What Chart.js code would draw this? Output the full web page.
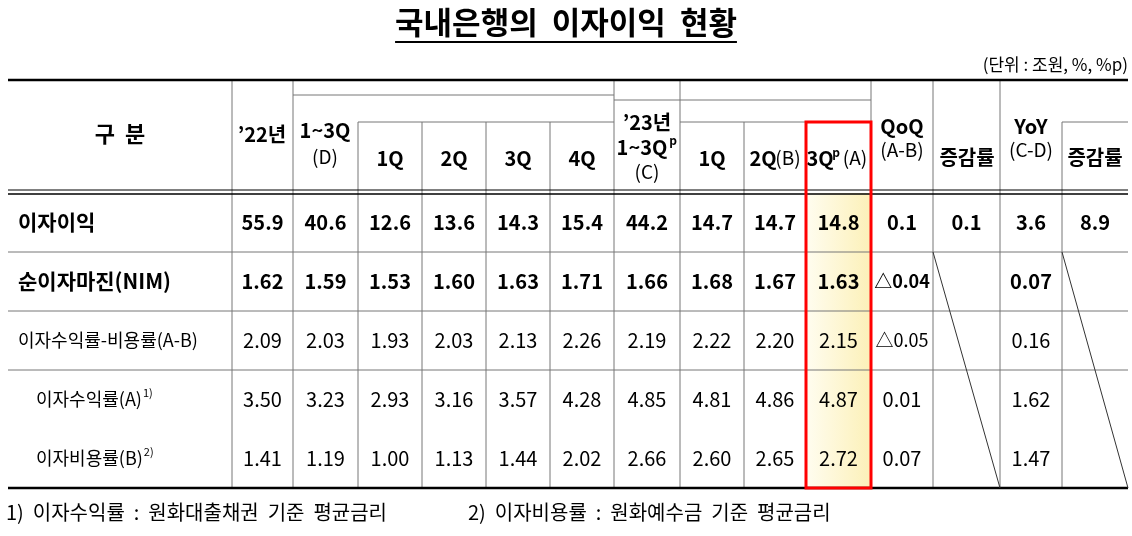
<!DOCTYPE html>
<html><head><meta charset="utf-8">
<script src="https://cdn.jsdelivr.net/npm/chart.js@4"></script>
<style>body{margin:0;background:#fff}#wrap{width:1132px;height:536px}</style>
</head><body><div id="wrap"><canvas id="tbl"></canvas></div>
<script>
// table data
const title = '국내은행의  이자이익  현황';
const unitNote = '(단위 : 조원, %, %p)';
const rowLabels = ['이자이익', '순이자마진(NIM)', '이자수익률-비용률(A-B)', '이자수익률(A)', '이자비용률(B)'];
const rowNotes = ['', '', '', '1)', '2)'];
const y22 = ['55.9', '1.62', '2.09', '3.50', '1.41'];
const y22q13 = ['40.6', '1.59', '2.03', '3.23', '1.19'];
const q1_22 = ['12.6', '1.53', '1.93', '2.93', '1.00'];
const q2_22 = ['13.6', '1.60', '2.03', '3.16', '1.13'];
const q3_22 = ['14.3', '1.63', '2.13', '3.57', '1.44'];
const q4_22 = ['15.4', '1.71', '2.26', '4.28', '2.02'];
const y23q13 = ['44.2', '1.66', '2.19', '4.85', '2.66'];
const q1_23 = ['14.7', '1.68', '2.22', '4.81', '2.60'];
const q2_23 = ['14.7', '1.67', '2.20', '4.86', '2.65'];
const q3_23 = ['14.8', '1.63', '2.15', '4.87', '2.72'];
const qoq = ['0.1', '△0.04', '△0.05', '0.01', '0.07'];
const qoqRate = ['0.1', '', '', '', ''];
const yoy = ['3.6', '0.07', '0.16', '1.62', '1.47'];
const yoyRate = ['8.9', '', '', '', ''];
const footnotes = ['1)  이자수익률  :  원화대출채권  기준  평균금리', '2)  이자비용률  :  원화예수금  기준  평균금리'];

const columns = [y22, y22q13, q1_22, q2_22, q3_22, q4_22, y23q13, q1_23, q2_23, q3_23, qoq, qoqRate, yoy, yoyRate];
// layout (column edges / row edges in scale units)
const colEdges = [8, 232, 293, 358, 422, 486, 550, 614, 680, 744, 806, 871, 933, 1000, 1062, 1128];
const rowEdges = [193, 252, 311, 370, 429, 488];
const HTOP = 80;
const F = '"Noto Sans CJK KR","Noto Sans",sans-serif';

const tablePlugin = {
  id: 'table',
  afterDraw(chart) {
    const ctx = chart.ctx, xs = chart.scales.x, ys = chart.scales.y;
    const X = v => xs.getPixelForValue(v), Y = v => ys.getPixelForValue(v);
    const line = (x1, y1, x2, y2, w, c) => {
      ctx.beginPath(); ctx.lineWidth = w || 1; ctx.strokeStyle = c || '#777';
      ctx.moveTo(X(x1), Y(y1)); ctx.lineTo(X(x2), Y(y2)); ctx.stroke();
    };
    const text = (s, x, y, font, align) => {
      ctx.font = font; ctx.fillStyle = '#000'; ctx.textAlign = align || 'center'; ctx.textBaseline = 'middle';
      ctx.fillText(s, X(x), Y(y));
    };
    ctx.save();
    // title
    text(title, 566, 22, 'bold 31px ' + F);
    ctx.font = 'bold 31px ' + F;
    const tw = ctx.measureText(title).width;
    line(566 - tw / 2, 42, 566 + tw / 2, 42, 2, '#000');
    text(unitNote, 1128, 65, '17px ' + F, 'right');
    // highlight column 3Qp
    const g = ctx.createLinearGradient(X(806), 0, X(871), 0);
    g.addColorStop(0, '#fffdf0'); g.addColorStop(1, '#fcf0b8');
    ctx.fillStyle = g;
    ctx.fillRect(X(806), Y(193), X(871) - X(806), Y(488) - Y(193));
    // header lines
    line(293, 95, 614, 95); line(614, 100, 871, 100);
    line(358, 122, 614, 122); line(680, 122, 871, 122); line(1062, 122, 1128, 122);
    // verticals
    colEdges.forEach((cx, i) => {
      if (i === 0 || i === colEdges.length - 1) return;
      let top = HTOP;
      if ([3, 4, 5, 6, 9, 10, 14].includes(i)) top = 122;
      line(cx, top, cx, 488);
    });
    // row lines
    line(8, HTOP, 1128, HTOP, 2.5, '#000');
    line(8, 190, 1128, 190, 1, '#000'); line(8, 194, 1128, 194, 1.5, '#000');
    line(8, 252, 1128, 252); line(8, 311, 1128, 311); line(8, 370, 1128, 370);
    line(8, 488, 1128, 488, 2.5, '#000');
    // diagonals in empty rate cells
    [[933, 1000], [1062, 1128]].forEach(([a, b]) => line(a, 252, b, 488, 1, '#333'));
    // header text
    const hb = 'bold 20px ' + F, hn = '19px ' + F;
    text('구  분', 120, 134, 'bold 22px ' + F);
    text('\u201922년', 262, 134, hb);
    text('1~3Q', 325, 130, hb); text('(D)', 325, 157, hn);
    text('1Q', 390, 158, hb); text('2Q', 454, 158, hb); text('3Q', 518, 158, hb); text('4Q', 582, 158, hb);
    text('\u201923년', 647, 122, hb); text('1~3Q', 642, 147, hb);
    text('p', 673, 140, 'bold 12px ' + F); text('(C)', 647, 172, hn);
    text('1Q', 712, 158, hb);
    text('2Q', 763, 158, hb); text('(B)', 788, 158, hn);
    text('3Q', 820, 158, hb); text('p', 836, 152, 'bold 12px ' + F); text('(A)', 855, 158, hn);
    text('QoQ', 902, 126, hb); text('(A-B)', 902, 150, hn);
    text('증감률', 967, 157, hb);
    text('YoY', 1031, 126, hb); text('(C-D)', 1031, 150, hn);
    text('증감률', 1095, 157, hb);
    // red box
    ctx.strokeStyle = '#ff0000'; ctx.lineWidth = 3;
    ctx.strokeRect(X(806), Y(122), X(871) - X(806), Y(488) - Y(122));
    // body
    rowLabels.forEach((lab, r) => {
      const cy = (rowEdges[r] + rowEdges[r + 1]) / 2;
      const bold = r < 2;
      const font = bold ? 'bold 21px ' + F : '18px ' + F;
      const lx = r >= 3 ? 36 : 18;
      text(lab, lx, cy, font, 'left');
      if (rowNotes[r]) {
        ctx.font = font;
        const w = ctx.measureText(lab).width;
        text(rowNotes[r], lx + w + 1, cy - 7, '11px ' + F, 'left');
      }
      columns.forEach((col, c) => {
        if (!col[r]) return;
        const cx = (colEdges[c + 1] + colEdges[c + 2]) / 2;
        const small = col[r].startsWith('△');
        const fs = small ? '18px ' : '20px ';
        text(col[r], cx, cy, (bold ? 'bold ' : '') + fs + F);
      });
    });
    // footnotes
    text(footnotes[0], 6, 512, '20px ' + F, 'left');
    text(footnotes[1], 468, 512, '20px ' + F, 'left');
    ctx.restore();
  }
};

new Chart(document.getElementById('tbl'), {
  type: 'scatter',
  data: { datasets: [{ data: [] }] },
  plugins: [tablePlugin],
  options: {
    responsive: true, maintainAspectRatio: false, animation: false,
    layout: { padding: 0 },
    plugins: { legend: { display: false }, tooltip: { enabled: false } },
    scales: {
      x: { type: 'linear', min: 0, max: 1132, display: false },
      y: { type: 'linear', min: 0, max: 536, reverse: true, display: false }
    }
  }
});
</script></body></html>
